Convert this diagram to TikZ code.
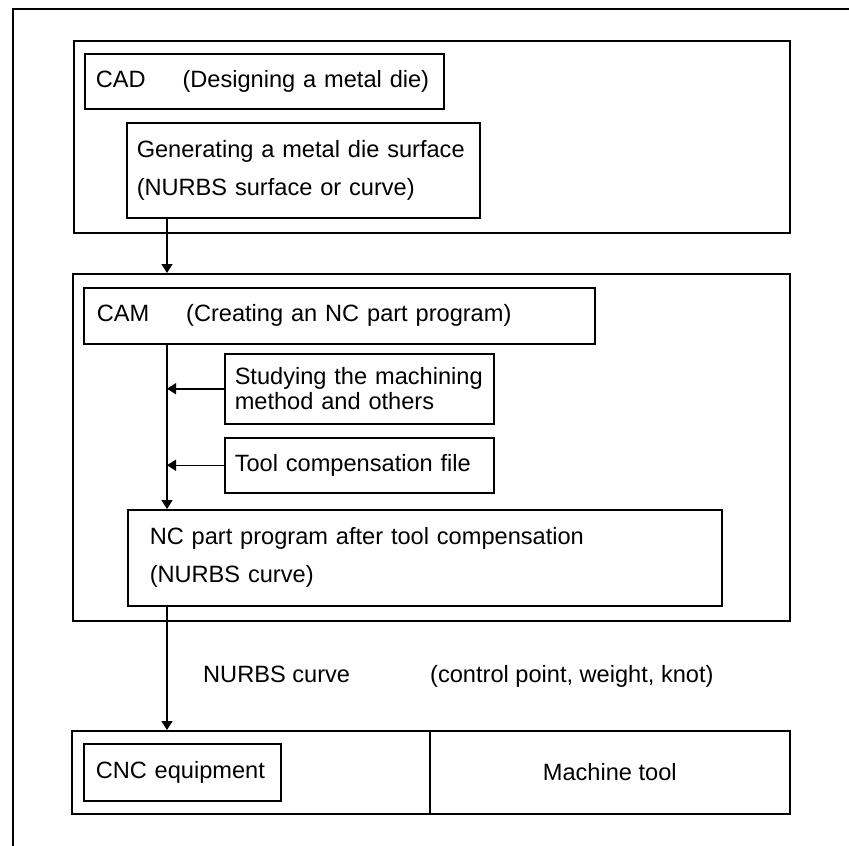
\documentclass[tikz,border=0pt]{standalone}
\usepackage{fontspec}
\setmainfont{Liberation Sans}
\usetikzlibrary{positioning, arrows.meta, calc}
\tikzset{
  box/.style={draw, line width=1.5pt, anchor=north west, align=left, inner ysep=0pt, inner xsep=11pt, font=\fontsize{23.6}{38}\selectfont},
  grp/.style={draw, line width=1.5pt, anchor=north west, inner sep=0pt},
  arr/.style={line width=1.5pt, -{Triangle[length=9pt, width=11pt]}},
  lbl/.style={anchor=base west, inner sep=0pt, font=\fontsize{23.6}{28}\selectfont}
}

\begin{document}
\begin{tikzpicture}[x=1pt, y=-1pt]
  \useasboundingbox (0,0) rectangle (849,846);
  % outer frame
  \draw[line width=2.5pt] (13,846) -- (13,9) -- (849,9);

  % CAD stage
  \node[grp, minimum width=716, minimum height=192] (cadgrp) at (73,40) {};
  \node[box, text width=337, minimum height=55] (cad) at (84,53) {\mbox{CAD\hspace{37pt}(Designing a metal die)}};
  \node[box, inner xsep=10pt, text width=333, minimum height=95] (gen) at (126,122) {\mbox{Generating a metal die surface}\\\mbox{(NURBS surface or curve)}};

  % CAM stage
  \node[grp, minimum width=717, minimum height=347] (camgrp) at (72,273) {};
  \node[box, inner xsep=13pt, text width=485, minimum height=56] (cam) at (83,287) {\mbox{CAM\hspace{37pt}(Creating an NC part program)}};
  \node[box, inner xsep=10pt, text width=249, minimum height=70, font=\fontsize{23.6}{25}\selectfont] (study) at (224,353) {\mbox{Studying the machining}\\\mbox{method and others}};
  \node[box, inner xsep=10pt, text width=249, minimum height=55] (toolc) at (224,437) {\mbox{Tool compensation file}};
  \node[box, inner xsep=22pt, text width=550, minimum height=96] (nc) at (127,509) {\mbox{NC part program after tool compensation}\\\mbox{(NURBS curve)}};

  % machine side
  \node[grp, minimum width=358, minimum height=83] (cnccell) at (71,730) {};
  \node[grp, minimum width=360, minimum height=83, font=\fontsize{23.6}{28}\selectfont] (machine) at (429,730) {Machine tool};
  \node[box, inner xsep=12pt, text width=173, minimum height=57] (cnc) at (83,743) {\mbox{CNC equipment}};

  \node[lbl] (curve) at (203,682) {NURBS curve};
  \node[lbl] (data) at (430,682) {(control point, weight, knot)};

  % connectors
  \coordinate (spine) at (167,0);
  \draw[arr] (gen.south west -| spine) -- (camgrp.north west -| spine);
  \draw[arr] (cam.south west -| spine) -- (nc.north west -| spine);
  \draw[arr] (study.west) -- (study.west -| spine);
  \draw[arr] (toolc.west) -- (toolc.west -| spine);
  \draw[arr] (nc.south west -| spine) -- (cnccell.north west -| spine);
\end{tikzpicture}
\end{document}
